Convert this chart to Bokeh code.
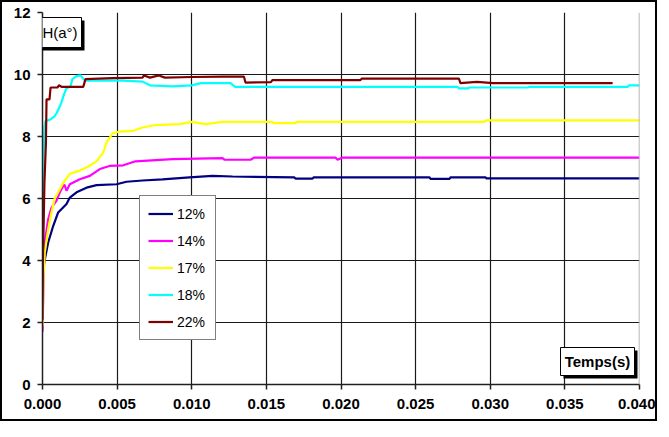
from bokeh.plotting import figure
from bokeh.models import (FixedTicker, NumeralTickFormatter, Legend, LegendItem,
                          Label, Span, Range1d, BoxAnnotation)
from bokeh.embed import file_html
from bokeh.resources import INLINE

# ---------------- data ----------------
x_ticks = [0.000, 0.005, 0.010, 0.015, 0.020, 0.025, 0.030, 0.035, 0.040]
y_ticks = [0, 2, 4, 6, 8, 10, 12]

names = ["12%", "14%", "17%", "18%", "22%"]
colors = ["#000080", "#FF00FF", "#FFFF00", "#00FFFF", "#800000"]

t12 = [0.0001, 0.00038, 0.00072, 0.00105, 0.00161, 0.00183, 0.00228, 0.00295, 0.00362,
       0.00496, 0.00563, 0.0067, 0.00804, 0.00985, 0.01139, 0.01273, 0.01688, 0.01695,
       0.01809, 0.01816, 0.02593, 0.0260, 0.02727, 0.02734, 0.02968, 0.02975, 0.0400]
h12 = [3.9, 4.58, 5.12, 5.55, 5.82, 6.03, 6.2, 6.35, 6.43,
       6.46, 6.54, 6.58, 6.62, 6.68, 6.73, 6.71, 6.68, 6.64,
       6.64, 6.68, 6.68, 6.63, 6.63, 6.68, 6.68, 6.65, 6.65]

t14 = [0.0, 0.00007, 0.00015, 0.00038, 0.0006, 0.00094, 0.00116, 0.00139, 0.00147,
       0.00161, 0.00183, 0.0025, 0.00317, 0.00384, 0.00449, 0.00541, 0.00623, 0.00871,
       0.01206, 0.0122, 0.01394, 0.0142, 0.01963, 0.01977, 0.0201, 0.0400]
h14 = [1.7, 3.3, 4.58, 5.33, 5.7, 5.93, 6.2, 6.4, 6.45,
       6.25, 6.46, 6.62, 6.73, 6.95, 7.05, 7.07, 7.2, 7.27,
       7.3, 7.25, 7.25, 7.32, 7.32, 7.25, 7.32, 7.32]

t17 = [0.0, 0.00007, 0.00015, 0.00038, 0.0006, 0.00082, 0.00116, 0.00139, 0.00183,
       0.0025, 0.00317, 0.00362, 0.00407, 0.00429, 0.00449, 0.00469, 0.00516, 0.00603,
       0.0067, 0.00757, 0.00918, 0.0100, 0.01092, 0.01206, 0.01541, 0.01548, 0.01695,
       0.01702, 0.02961, 0.02968, 0.0400]
h17 = [1.9, 3.5, 4.25, 5.0, 5.55, 6.0, 6.3, 6.5, 6.8,
       6.9, 7.06, 7.2, 7.48, 7.8, 7.95, 8.1, 8.16, 8.18,
       8.29, 8.37, 8.4, 8.47, 8.4, 8.47, 8.47, 8.43, 8.43,
       8.47, 8.47, 8.52, 8.52]

t18 = [0.0, 0.00003, 0.00013, 0.0002, 0.00054, 0.0008, 0.00094, 0.00114, 0.00127,
       0.0014, 0.0016, 0.00188, 0.0020, 0.00228, 0.00255, 0.00275, 0.0030, 0.0054,
       0.0067, 0.0072, 0.0087, 0.0100, 0.0106, 0.0126, 0.0129, 0.0278, 0.0279,
       0.0285, 0.0286, 0.0325, 0.0326, 0.0392, 0.0393, 0.0400]
h18 = [3.9, 6.5, 8.3, 8.5, 8.55, 8.65, 8.75, 8.95, 9.1,
       9.3, 9.55, 9.62, 9.85, 9.95, 9.97, 9.85, 9.8, 9.8,
       9.77, 9.65, 9.62, 9.65, 9.72, 9.72, 9.6, 9.6, 9.55,
       9.55, 9.58, 9.58, 9.6, 9.6, 9.65, 9.65]

t22 = [0.0, 0.00003, 0.00013, 0.00023, 0.00027, 0.00047, 0.00054, 0.0010, 0.0011,
       0.0013, 0.00273, 0.00288, 0.0047, 0.0067, 0.0068, 0.0072, 0.0078, 0.0082,
       0.0100, 0.0121, 0.0135, 0.0136, 0.0153, 0.0154, 0.0213, 0.0214, 0.0279,
       0.0280, 0.0291, 0.0302, 0.0382]
h22 = [2.1, 4.0, 6.5, 7.8, 9.2, 9.2, 9.58, 9.58, 9.65,
       9.6, 9.6, 9.85, 9.88, 9.9, 9.97, 9.9, 9.97, 9.9,
       9.92, 9.93, 9.93, 9.74, 9.75, 9.82, 9.82, 9.87, 9.87,
       9.72, 9.76, 9.72, 9.72]

series_t = [t12, t14, t17, t18, t22]
series_h = [h12, h14, h17, h18, h22]

y_label = "H(a°)"
x_label = "Temps(s)"

# ---------------- figure ----------------
FONT = "Liberation Sans"
W, H = 657, 421
ML, MR, MT, MB = 40, 20, 10, 39

p = figure(width=W, height=H, x_range=Range1d(0, 0.04), y_range=Range1d(0, 12),
           output_backend="svg", toolbar_location=None,
           min_border_left=ML, min_border_right=MR, min_border_top=MT, min_border_bottom=MB)
p.styles = {"border": "2px solid black"}
p.background_fill_color = "white"
p.border_fill_color = "white"
p.outline_line_color = None

for ax in (p.xaxis[0], p.yaxis[0]):
    ax.axis_line_color = "#202020"
    ax.axis_line_width = 1.5
    ax.major_tick_line_color = "#202020"
    ax.major_tick_line_width = 1.5
    ax.major_tick_out = 5
    ax.major_tick_in = 0
    ax.minor_tick_line_color = None
    ax.major_label_text_font = FONT
    ax.major_label_text_font_style = "bold"
    ax.major_label_text_font_size = "15px"
    ax.major_label_text_color = "black"

p.xaxis.ticker = FixedTicker(ticks=x_ticks)
p.xaxis.formatter = NumeralTickFormatter(format="0.000")
p.xaxis.major_label_standoff = 9
p.yaxis.ticker = FixedTicker(ticks=y_ticks)
p.yaxis.major_label_standoff = 7

p.xgrid.ticker = FixedTicker(ticks=x_ticks[1:-1])
p.ygrid.ticker = FixedTicker(ticks=y_ticks[1:-1])
for g in (p.xgrid[0], p.ygrid[0]):
    g.grid_line_color = "#1a1a1a"
    g.grid_line_width = 1.2

p.add_layout(Span(location=x_ticks[-1], dimension="height",
                  line_color="#a0a0a0", line_width=1.5))

items = []
for name, col, t, h in zip(names, colors, series_t, series_h):
    r = p.line(t, h, line_color=col, line_width=2.2)
    items.append(LegendItem(label=name, renderers=[r]))

legend = Legend(items=items, location=(97, 44), orientation="vertical",
                label_text_font=FONT, label_text_font_size="14px", label_text_color="black",
                glyph_width=25, glyph_height=19, label_height=19, label_width=30,
                label_standoff=4, spacing=8, padding=8, margin=0,
                border_line_color="black", border_line_width=1.2,
                background_fill_color="white", background_fill_alpha=1.0)
p.add_layout(legend)


def boxed(text, left, right, bottom, top, bold):
    # drop shadow
    p.add_layout(BoxAnnotation(left=left + 3, right=right + 3, bottom=bottom - 3, top=top - 3,
                               left_units="screen", right_units="screen",
                               bottom_units="screen", top_units="screen",
                               fill_color="black", fill_alpha=1.0, line_alpha=0))
    # box
    p.add_layout(BoxAnnotation(left=left, right=right, bottom=bottom, top=top,
                               left_units="screen", right_units="screen",
                               bottom_units="screen", top_units="screen",
                               fill_color="white", fill_alpha=1.0,
                               line_color="black", line_width=1, line_alpha=1.0))
    p.add_layout(Label(x=(left + right) / 2, y=(bottom + top) / 2,
                       x_units="screen", y_units="screen", text=text,
                       text_font=FONT, text_font_size="15px",
                       text_font_style="bold" if bold else "normal",
                       text_color="black", text_baseline="middle", text_align="center"))


boxed(y_label, -4, 39, 337, 367, False)
boxed(x_label, 518, 592, 9, 37, True)

open("out.html", "w").write(file_html(p, INLINE))
